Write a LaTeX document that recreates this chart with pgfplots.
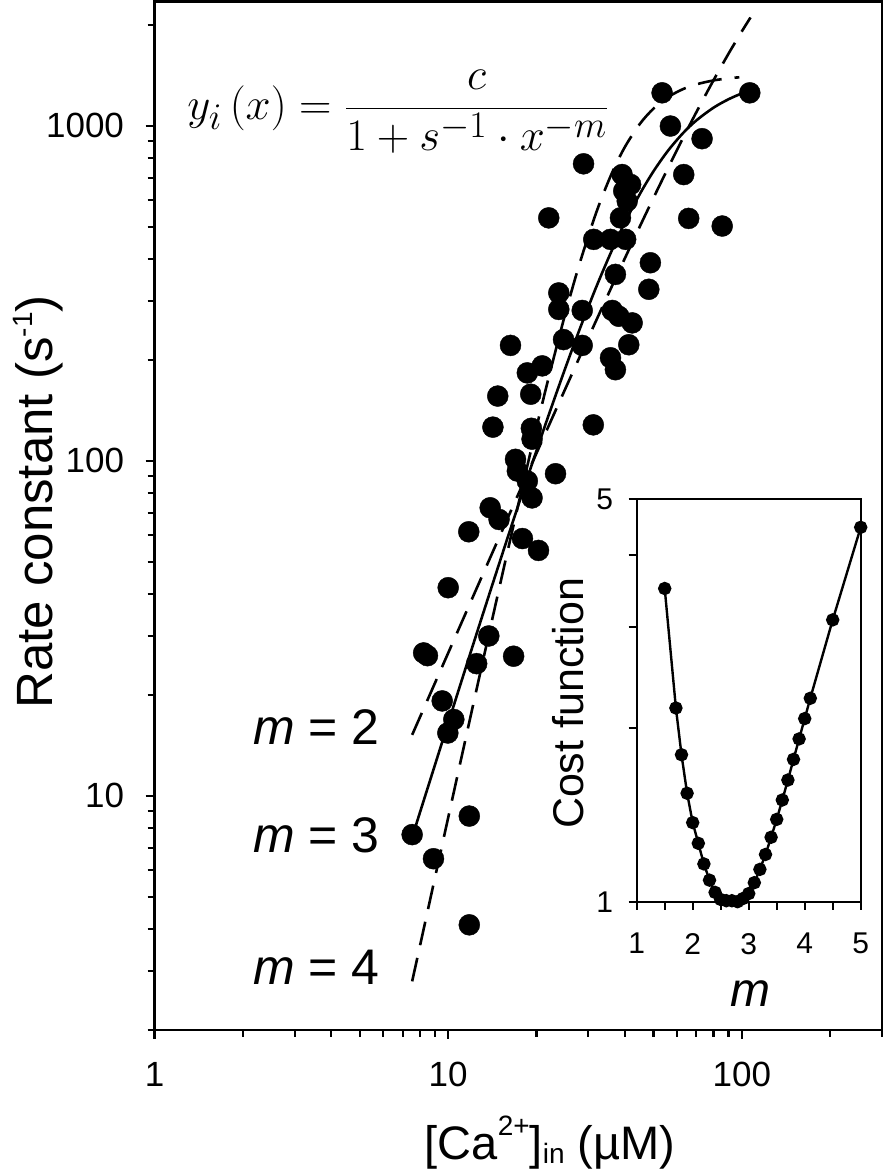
\documentclass[border=0pt]{standalone}
\usepackage{pgfplots}
\pgfplotsset{compat=1.18}
\usepackage{fontspec}
\setmainfont{Liberation Sans}
\begin{document}
\begin{tikzpicture}[x=1pt,y=1pt]
\useasboundingbox (0,0) rectangle (886,1175);
\begin{axis}[
  at={(154.5pt,145pt)}, anchor=south west, scale only axis,
  width=727.5pt, height=1028.5pt,
  xmode=log, ymode=log, xmin=1, xmax=300, ymin=2, ymax=2350,
  axis line style={line width=2.6pt},
  xtick={1,10,100}, xticklabels={1,10,100},
  minor xtick={2,3,4,5,6,7,8,9,20,30,40,50,60,70,80,90,200,300},
  ytick={10,100,1000}, yticklabels={10,100,1000},
  minor ytick={2,3,4,5,6,7,8,9,20,30,40,50,60,70,80,90,200,300,400,500,600,700,800,900,2000},
  tick align=outside, xtick pos=bottom, ytick pos=left,
  major tick length=9pt, minor tick length=7pt,
  every tick/.style={line width=2.2pt, black},
  tick label style={font=\fontsize{35}{35}\selectfont},
  xticklabel style={yshift=-20pt},
  yticklabel style={xshift=-18pt},
  clip=false,
]
\addplot[black, line width=2.6pt, smooth, dash pattern=on 24pt off 13pt] coordinates {
(7.54,15.20) (8,17.11) (9,21.64) (10,26.69) (11,32.27) (12,38.37) (13,44.99) (14,52.12) (15,59.76) (16,67.91) (18,85.72) (20,105.5) (22,127.25) (25,163.4) (28,203.7) (32,263.6) (36,330.2) (40,403.0) (45,502.0) (50,609.1) (56,746.8) (63,918.0) (70,1098.0) (80,1365.6) (90,1639.6) (100,1914.3) (107,2104.5)};
\addplot[black, line width=2.6pt, smooth] coordinates {
(7.54,7.525) (8,8.876) (9,12.31) (10,16.49) (11,21.46) (12,27.27) (13,33.95) (14,41.55) (15,50.08) (16,59.59) (18,81.54) (20,107.4) (22,137.1) (25,188.2) (28,246.3) (32,331.8) (36,422.7) (40,515.0) (45,627.1) (50,731.2) (56,841.9) (63,950.1) (70,1037.3) (80,1131.7) (90,1199.3) (100,1248.1) (106.4,1260)};
\addplot[black, line width=2.6pt, smooth, dash pattern=on 24pt off 13pt] coordinates {
(7.54,2.794) (8,3.539) (9,5.660) (10,8.609) (11,12.57) (12,17.74) (13,24.32) (14,32.51) (15,42.54) (16,54.58) (18,85.46) (20,126.3) (22,177.5) (25,273.2) (28,387.2) (32,553.9) (36,718.6) (40,865.7) (45,1014.4) (50,1124.9) (56,1217.1) (63,1286.2) (70,1329.2) (80,1365.4) (90,1385.4) (98,1395.2)};
\addplot[black, only marks, mark=*, mark size=10.5pt] coordinates {
(53.5,1254) (106.4,1254) (57.1,998) (73.2,915) (28.9,770) (63.4,715) (39.1,715) (41.8,668) (39.6,639) (40.7,596)
(38.6,531) (22.0,531) (65.9,529) (85.7,502) (31.3,458) (35.7,458) (40.2,458) (48.8,390) (37.1,360) (48.2,325)
(23.8,317) (23.8,283) (28.6,281) (36.2,281) (38.1,270) (42.3,258) (24.7,230) (28.6,221) (41.2,222) (16.3,221)
(35.7,203) (37.1,187) (20.9,192) (18.6,183) (19.1,158) (14.75,156) (14.2,126) (19.2,125) (19.3,116) (31.2,128)
(16.95,101) (17.2,93.2) (18.6,87.0) (19.3,77.5) (23.2,91.5) (13.9,72.4) (14.9,66.8) (11.75,61.4) (17.9,58.6) (20.3,54.0)
(10.0,41.8) (13.75,30.0) (16.7,26.1) (8.25,26.7) (8.5,26.2) (12.5,24.8) (9.54,19.2) (10.45,16.9) (9.97,15.4)
(7.54,7.66) (8.91,6.49) (11.8,8.7) (11.8,4.12)};
\end{axis}
\begin{axis}[
  at={(636.7pt,273.3pt)}, anchor=south west, scale only axis,
  width=224pt, height=402.4pt,
  xmin=1, xmax=5, ymode=log, ymin=1, ymax=5,
  axis background/.style={fill=white},
  axis line style={line width=2pt},
  xtick={1,2,3,4,5}, xticklabels={1,2,3,4,5},
  minor xtick={1.5,2.5,3.5,4.5},
  ytick={1,2,3,4,5}, yticklabels={1,,,,5},
  minor ytick={},
  tick align=outside, xtick pos=bottom, ytick pos=left,
  major tick length=8pt, minor tick length=8pt,
  every tick/.style={line width=2pt, black},
  tick label style={font=\fontsize{30}{30}\selectfont},
  xticklabel style={yshift=-20pt},
  yticklabel style={xshift=-12pt},
  clip=false,
]
\addplot[black, line width=2.4pt, mark=*, mark size=5.5pt] coordinates {
(1.5,3.50) (1.7,2.17) (1.8,1.80) (1.9,1.543) (2.0,1.372) (2.1,1.263) (2.2,1.163) (2.3,1.090) (2.4,1.038) (2.5,1.009)
(2.6,1.004) (2.7,1.004) (2.8,1.0) (2.9,1.013) (3.0,1.033) (3.1,1.079) (3.2,1.138) (3.3,1.208) (3.4,1.294) (3.5,1.390)
(3.6,1.502) (3.7,1.627) (3.8,1.767) (3.9,1.918) (4.0,2.08) (4.1,2.256) (4.5,3.087) (5.0,4.47)};
\end{axis}
\node[anchor=base west, inner sep=0pt, font=\fontsize{50}{50}\selectfont] at (253,430) {\textit{m} = 2};
\node[anchor=base west, inner sep=0pt, font=\fontsize{50}{50}\selectfont] at (253,322) {\textit{m} = 3};
\node[anchor=base west, inner sep=0pt, font=\fontsize{50}{50}\selectfont] at (253,190) {\textit{m} = 4};
\node[anchor=base west, inner sep=0pt, scale=1.809, font=\fontsize{24.88}{25}\selectfont] at (187,1055) {$\displaystyle y_i\,(x) = \frac{c}{1+s^{-1}\cdot x^{-m}}$};
\node[anchor=base, inner sep=0pt, rotate=90, font=\fontsize{51}{51}\selectfont] at (52,673) {Rate constant (s\raisebox{20pt}{\fontsize{28}{28}\selectfont -1})};
\node[anchor=base, inner sep=0pt, font=\fontsize{47}{47}\selectfont] at (550,15) {[Ca\raisebox{25pt}{\fontsize{28}{28}\selectfont 2+}]\raisebox{-4pt}{\fontsize{28}{28}\selectfont in} (µM)};
\node[anchor=base, inner sep=0pt, rotate=90, font=\fontsize{43}{43}\selectfont] at (583,471.5) {Cost function};
\node[anchor=base, inner sep=0pt, font=\fontsize{48}{48}\selectfont] at (750,168) {\textit{m}};
\end{tikzpicture}
\end{document}
